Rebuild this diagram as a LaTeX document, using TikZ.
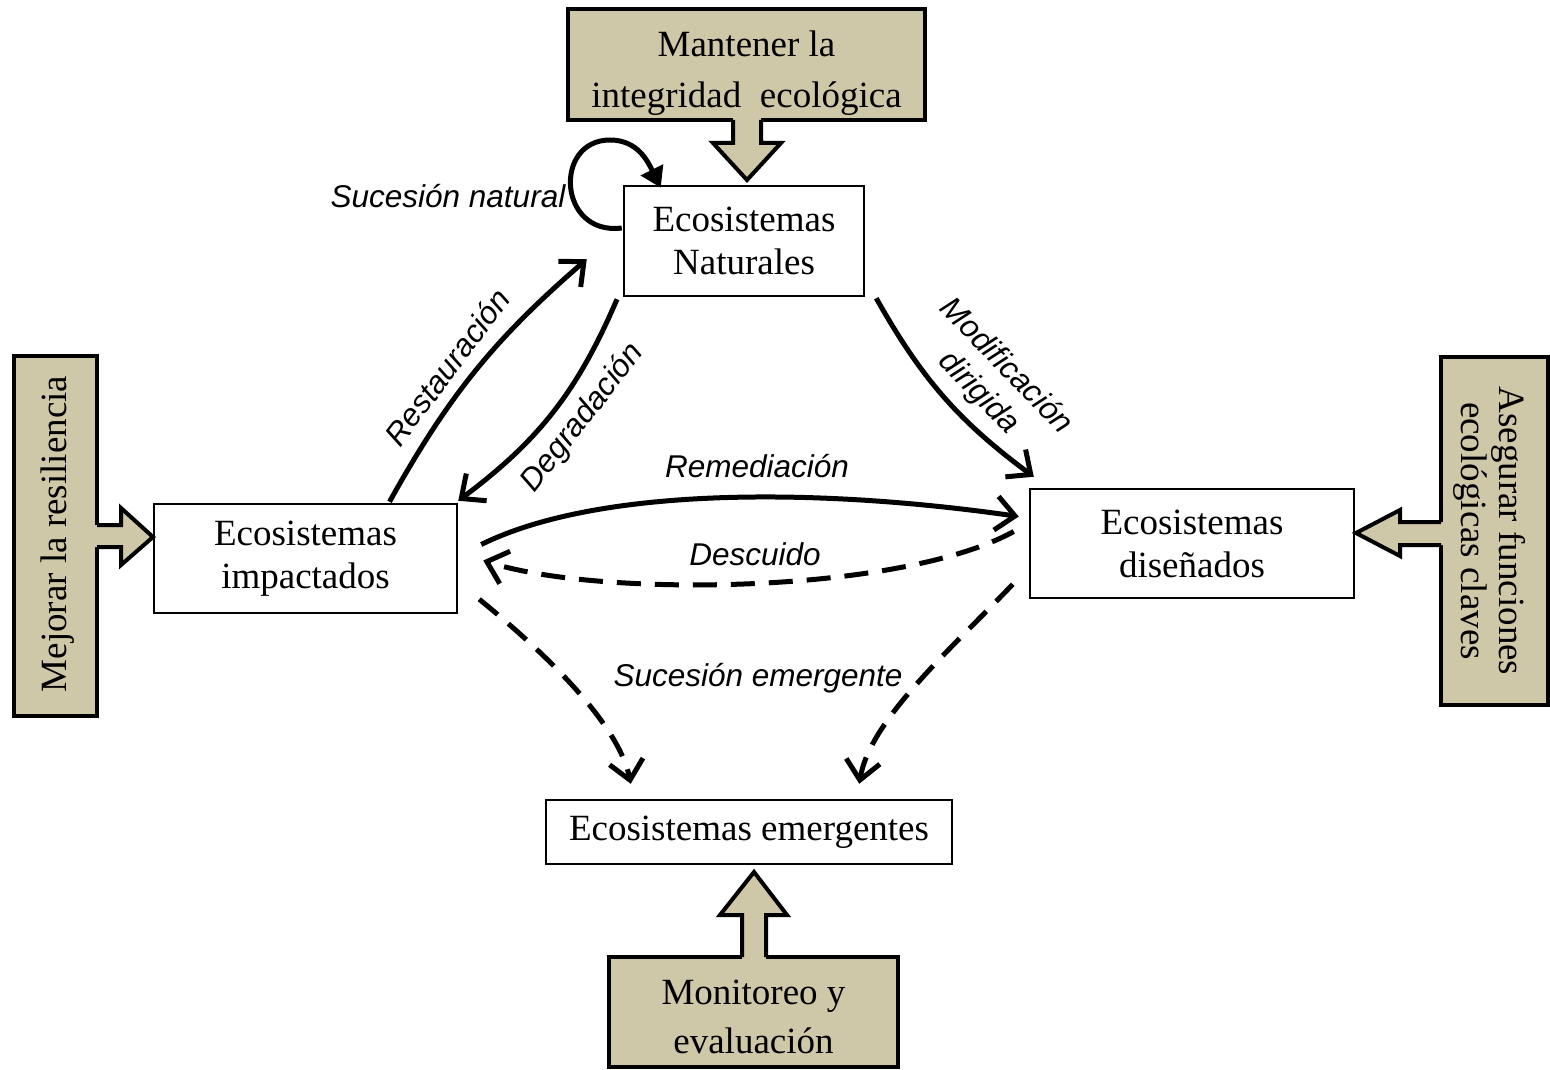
\documentclass[tikz,border=0pt]{standalone}
\usepackage{fontspec}
\setmainfont{Liberation Serif}
\newfontfamily\arialfont{Liberation Sans}
\usetikzlibrary{arrows.meta,calc}
\definecolor{tanfill}{HTML}{CFC8A8}
\begin{document}
\begin{tikzpicture}[x=1pt,y=-1pt,
  eco/.style={draw, line width=2.5pt, fill=white, align=center, inner sep=0pt, font=\fontsize{37}{43}\selectfont},
  tanbox/.style={draw, line width=4pt, fill=tanfill, inner sep=0pt},
  tantext/.style={align=center, inner sep=0pt},
  lab/.style={font=\arialfont\itshape\fontsize{31.5}{38}\selectfont, inner sep=0pt, align=center},
  conn/.style={line width=5pt, -{Straight Barb[length=19pt,width=34pt]}},
  dconn/.style={conn, dash pattern=on 24pt off 14pt},
  blockfill/.style={fill=tanfill},
  blockline/.style={draw, line width=4pt, line join=miter}
]
\useasboundingbox (0,0) rectangle (1550,1070);
\fill[white] (0,0) rectangle (1550,1070);

% white boxes
\node[eco, minimum width=240pt, minimum height=110pt] (nat) at (744,241) {Ecosistemas\\Naturales};
\node[eco, minimum width=303pt, minimum height=109pt] (imp) at (305.5,558.5) {Ecosistemas\\impactados};
\node[eco, minimum width=324pt, minimum height=109pt] (dis) at (1192,543.5) {Ecosistemas\\diseñados};
\node[eco, minimum width=406pt, minimum height=64pt] (eme) at (749,832) {Ecosistemas emergentes};

% tan boxes
\node[tanbox, minimum width=357pt, minimum height=111pt] (tTop) at (746.5,64.5) {};
\node[tantext, font=\fontsize{37}{51}\selectfont] (tTopTxt) at ($(tTop.center)+(0,9)$) {Mantener la\\integridad\ \ ecológica};
\node[tanbox, minimum width=83pt, minimum height=360pt] (tLeft) at (55.5,536) {};
\node[tantext, rotate=90, font=\fontsize{37}{44}\selectfont] (tLeftTxt) at ($(tLeft.center)+(2,-2)$) {Mejorar la resiliencia};
\node[tanbox, minimum width=107pt, minimum height=348pt] (tRight) at (1494.5,531) {};
\node[tantext, rotate=-90, font=\fontsize{37}{38}\selectfont] (tRightTxt) at ($(tRight.center)+(-5,0)$) {Asegurar funciones\\ecológicas claves};
\node[tanbox, minimum width=289pt, minimum height=110pt] (tBot) at (753.5,1012) {};
\node[tantext, font=\fontsize{37}{49}\selectfont] (tBotTxt) at ($(tBot.center)+(0,5)$) {Monitoreo y\\evaluación};

% block arrows
\fill[blockfill] (733,117) -- (733,143) -- (713,143) -- (747,180) -- (781,143) -- (761,143) -- (761,117) -- cycle;
\draw[blockline] (733,120) -- (733,143) -- (713,143) -- (747,180) -- (781,143) -- (761,143) -- (761,120);

\fill[blockfill] (94,525) -- (121,525) -- (121,508) -- (153,537) -- (121,565) -- (121,547) -- (94,547) -- cycle;
\draw[blockline] (97,525) -- (121,525) -- (121,508) -- (153,537) -- (121,565) -- (121,547) -- (97,547);

\fill[blockfill] (1444,522) -- (1400,522) -- (1400,510) -- (1356,533) -- (1400,556) -- (1400,545) -- (1444,545) -- cycle;
\draw[blockline] (1441,522) -- (1400,522) -- (1400,510) -- (1356,533) -- (1400,556) -- (1400,545) -- (1441,545);

\fill[blockfill] (742,960) -- (742,915) -- (720,915) -- (754,872) -- (787,915) -- (766,915) -- (766,960) -- cycle;
\draw[blockline] (742,957) -- (742,915) -- (720,915) -- (754,872) -- (787,915) -- (766,915) -- (766,957);

% connectors
\draw[line width=5pt, -{Triangle[length=20pt,width=24pt]}]
  ($(nat.west)+(-1,-13)$) .. controls (558,236) and (553,140) .. (610,140)
  .. controls (638,140) and (648,162) .. ($(nat.north west)+(38,3)$);
\draw[conn] ($(imp.north)+(84,-1)$) to[bend left=10] ($(nat.south west)+(-36,-38)$);
\draw[conn] ($(nat.south)+(-127,2)$) to[bend left=15] ($(imp.north east)+(0,-2)$);
\draw[conn] ($(nat.south east)+(11,1)$) to[bend right=12] ($(dis.north west)+(5,-11)$);
\draw[conn] ($(imp.east)+(23,-14)$) .. controls (600,486) and (820,488) .. ($(dis.west)+(-10,-27)$);
\draw[dconn] ($(dis.west)+(-15,-12)$) .. controls (900,594) and (600,598) .. ($(imp.east)+(25,2)$);
\draw[dconn] ($(imp.south east)+(21,-15)$) .. controls (560,665) and (620,730) .. ($(eme.north west)+(86,-15)$);
\draw[dconn] ($(dis.south west)+(-16,-15)$) .. controls (950,650) and (870,720) .. ($(eme.north east)+(-94,-15)$);

% labels
\node[lab] (lSN) at (448,196) {Sucesión natural};
\node[lab, rotate=53] (lRest) at (447,367) {Restauración};
\node[lab, rotate=52] (lDeg) at (583,418) {Degradación};
\node[lab, rotate=-46] (lMod) at (992,380) {Modificación\\dirigida};
\node[lab] (lRem) at (757,466) {Remediación};
\node[lab] (lDes) at (755,554) {Descuido};
\node[lab] (lSE) at (758,678) {Sucesión emergente};
\end{tikzpicture}
\end{document}
